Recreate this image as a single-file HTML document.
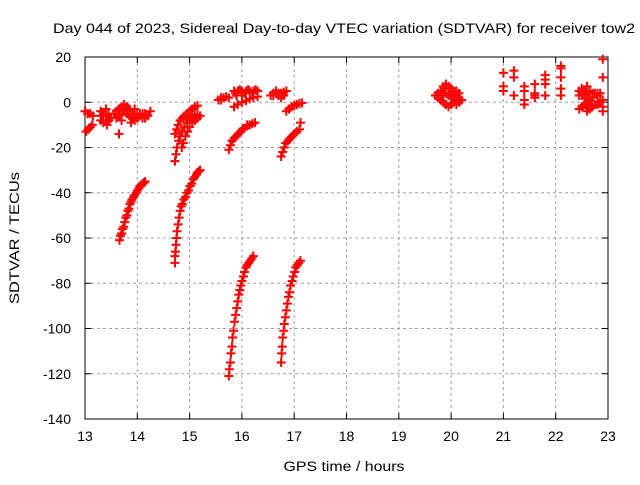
<!DOCTYPE html>
<html><head><meta charset="utf-8"><style>
body{margin:0;background:#fff}
svg text{font-family:"Liberation Sans",sans-serif;font-size:14px;fill:#000}
</style></head><body>
<svg id="c" width="640" height="480">
<text x="344" y="33" text-anchor="middle" font-size="15" textLength="582" lengthAdjust="spacingAndGlyphs">Day 044 of 2023, Sidereal Day-to-day VTEC variation (SDTVAR) for receiver tow2</text>
<text x="344" y="471" text-anchor="middle" font-size="15" textLength="121" lengthAdjust="spacingAndGlyphs">GPS time / hours</text>
<text transform="translate(19,238) rotate(-90)" text-anchor="middle" font-size="15" textLength="132" lengthAdjust="spacingAndGlyphs">SDTVAR / TECUs</text>
<g id="grid"></g>
<g id="axes"></g>
<g id="pts"></g>
</svg>
<script>
const xTicks=[13,14,15,16,17,18,19,20,21,22,23];
const yTicks=[20,0,-20,-40,-60,-80,-100,-120,-140];
const arcA1=[[13.66,-61],[13.68,-59],[13.70,-58],[13.72,-56],[13.74,-55],[13.76,-53],[13.78,-51],[13.80,-50],[13.82,-48],[13.84,-47],[13.86,-45],[13.88,-44],[13.90,-43],[13.93,-42],[13.95,-41],[13.98,-40],[14.00,-39],[14.03,-38],[14.05,-37],[14.08,-36.5],[14.10,-36],[14.13,-35.5],[14.15,-35]];
const arcA2=[[14.72,-71],[14.72,-68],[14.73,-66],[14.74,-63],[14.75,-60],[14.76,-57],[14.78,-54],[14.80,-51],[14.82,-48],[14.84,-46],[14.86,-45],[14.89,-43],[14.92,-42],[14.95,-40],[14.98,-39],[15.01,-37],[15.04,-36],[15.07,-34],[15.10,-33],[15.13,-32],[15.15,-31],[15.18,-30.5],[15.20,-30]];
const arcA3=[[15.75,-121],[15.76,-118],[15.78,-115],[15.79,-111],[15.81,-108],[15.82,-104],[15.84,-101],[15.86,-97],[15.88,-94],[15.90,-91],[15.92,-88],[15.94,-85],[15.96,-83],[15.98,-81],[16.00,-79],[16.03,-77],[16.05,-75],[16.08,-73],[16.10,-72],[16.13,-71],[16.16,-70],[16.19,-69],[16.22,-68]];
const arcA4=[[16.75,-115],[16.76,-111],[16.77,-108],[16.78,-104],[16.80,-101],[16.81,-98],[16.83,-95],[16.85,-92],[16.87,-89],[16.89,-86],[16.91,-84],[16.93,-81],[16.96,-79],[16.98,-77],[17.01,-75],[17.03,-73],[17.06,-72],[17.09,-71],[17.12,-70]];
const arcB1=[[14.72,-26],[14.74,-23],[14.76,-20],[14.79,-17],[14.82,-15],[14.86,-13],[14.90,-11],[14.95,-9],[15.00,-8],[15.05,-7],[15.10,-6],[15.15,-5.5]];
const arcB2=[[14.72,-14],[14.75,-12],[14.78,-10],[14.82,-8],[14.86,-7],[14.90,-6],[14.95,-5],[15.00,-4],[15.05,-3],[15.10,-2],[15.15,-1.5]];
const arcB3=[[14.85,-20],[14.88,-18],[14.92,-15],[14.96,-13],[15.00,-11],[15.05,-9],[15.10,-8],[15.15,-7],[15.20,-6]];
const arcB4=[[15.75,-21],[15.78,-19],[15.81,-17],[15.85,-16],[15.89,-15],[15.93,-14],[15.97,-13],[16.01,-12],[16.05,-11.5],[16.10,-10.5],[16.15,-10],[16.20,-9.5],[16.25,-9]];
const arcB5=[[16.75,-24],[16.78,-22],[16.81,-20],[16.84,-18],[16.88,-17],[16.92,-16],[16.96,-15],[17.00,-14],[17.05,-13],[17.10,-12]];
const arcB6=[[16.85,-4],[16.90,-3],[16.95,-2],[17.00,-1.5],[17.05,-1],[17.10,-0.5],[17.15,-0.3]];
const arcB7=[[15.85,-2],[15.92,-1],[16.00,0],[16.08,0.8],[16.15,1.5],[16.22,2],[16.30,2.5]];
const band1=[[15.85,5],[15.92,5],[16.00,5],[16.08,5],[16.15,5],[16.22,5],[16.30,5],[15.88,4],[16.05,4],[16.20,4],[15.90,3],[16.0,3],[15.96,5.5],[16.12,5.5],[16.26,5.5]];
const band2=[[15.55,1],[15.60,2],[15.65,2],[15.70,2.5],[15.75,2],[15.60,1],[16.10,-10],[17.12,-9]];
const band3=[[16.55,3],[16.60,4],[16.65,4],[16.70,4],[16.75,4],[16.80,4.5],[16.85,5],[16.60,3],[16.70,3],[16.80,3],[16.65,5],[16.75,2]];
const blobLeft=[[13.0,-4],[13.05,-5],[13.10,-5],[13.15,-6],[13.02,-13],[13.06,-12],[13.10,-11],[13.14,-10],[13.30,-4],[13.35,-5],[13.40,-6],[13.45,-5],[13.30,-8],[13.35,-9],[13.42,-10],[13.50,-7],[13.55,-5],[13.60,-4],[13.65,-3],[13.70,-2],[13.75,-1],[13.80,-2],[13.85,-3],[13.60,-7],[13.65,-6],[13.70,-5],[13.75,-4],[13.80,-5],[13.85,-6],[13.90,-5],[13.95,-5],[14.00,-5],[14.05,-5],[14.10,-5],[14.15,-5],[14.20,-6],[13.90,-7],[13.95,-8],[14.00,-7],[14.05,-6],[14.10,-7],[13.88,-9],[13.70,-8],[13.65,-14],[13.75,-3],[13.95,-3],[13.40,-3],[13.32,-6],[13.46,-8],[14.15,-7],[14.25,-4],[13.85,-4]];
const blob20=[[19.7,3],[19.75,4],[19.8,5],[19.85,7],[19.9,8],[19.95,7],[20.0,6],[20.05,5],[20.1,5],[19.75,2],[19.8,1],[19.85,0],[19.9,-1],[19.95,-2],[20.0,-1],[20.05,0],[20.1,1],[20.15,2],[19.85,3],[19.9,4],[19.95,3],[20.0,2],[20.05,3],[20.1,3],[20.15,4],[19.9,6],[20.0,4],[19.8,3],[20.2,1],[20.15,0],[20.1,-1]];
const scatter=[[21.0,13],[21.0,7],[21.0,5],[21.2,14],[21.2,11],[21.2,3],[21.4,7],[21.4,5],[21.4,1],[21.4,-1],[21.6,8],[21.6,4],[21.6,3],[21.6,2],[21.8,12],[21.8,10],[21.8,8],[21.8,3],[22.1,16],[22.1,15],[22.1,11],[22.1,6],[22.1,3],[22.9,19],[22.9,11]];
const blob23=[[22.45,5],[22.5,6],[22.55,5],[22.6,5],[22.65,5],[22.7,4],[22.75,4],[22.8,4],[22.45,3],[22.5,3],[22.55,3],[22.6,2],[22.65,2],[22.7,2],[22.8,3],[22.85,4],[22.45,-3],[22.5,-2],[22.55,-1],[22.6,0],[22.65,1],[22.7,2],[22.6,-4],[22.65,-3],[22.7,-2],[22.75,-1],[22.8,-1],[22.85,0],[22.9,-4],[22.9,1],[22.9,-2],[22.5,4],[22.6,7]];
const series=[arcA1,arcA2,arcA3,arcA4,arcB1,arcB2,arcB3,arcB4,arcB5,arcB6,arcB7,band1,band2,band3,blobLeft,blob20,scatter,blob23];
const X0=85,X1=608,Y0=419,Y1=57;
const xS=v=>X0+(v-13)/10*(X1-X0);
const yS=v=>Y0-(v+140)/160*(Y0-Y1);
const NS='http://www.w3.org/2000/svg';
function mk(t,a,p){const e=document.createElementNS(NS,t);for(const k in a)e.setAttribute(k,a[k]);p.appendChild(e);return e;}
const g=document.getElementById('grid'),ax=document.getElementById('axes'),pg=document.getElementById('pts');
xTicks.forEach(t=>{const x=xS(t);
 if(t>13&&t<23){const l=mk('line',{x1:x,x2:x,y1:Y1,y2:Y0,stroke:'#a0a0a0','stroke-dasharray':'3,3'},g);}
 mk('line',{x1:x,x2:x,y1:Y0,y2:Y0-6,stroke:'#000'},ax);mk('line',{x1:x,x2:x,y1:Y1,y2:Y1+6,stroke:'#000'},ax);
 const tx=mk('text',{x:x,y:Y0+22,'text-anchor':'middle','font-size':15},ax);tx.textContent=t;
 });
yTicks.forEach(t=>{const y=yS(t);
 if(t<20&&t>-140){const l=mk('line',{x1:X0,x2:X1,y1:y,y2:y,stroke:'#a0a0a0','stroke-dasharray':'3,3'},g);}
 mk('line',{x1:X0,x2:X0+6,y1:y,y2:y,stroke:'#000'},ax);mk('line',{x1:X1,x2:X1-6,y1:y,y2:y,stroke:'#000'},ax);
 const tx=mk('text',{x:X0-14,y:y+5,'text-anchor':'end','font-size':15},ax);tx.textContent=t;
 });
mk('rect',{x:X0,y:Y1,width:X1-X0,height:Y0-Y1,fill:'none',stroke:'#000'},ax);
let d='';
series.forEach(s=>s.forEach(p=>{const x=xS(p[0]),y=yS(p[1]);d+=`M${x-4.5},${y}h9M${x},${y-4.5}v9`;}));
const path=mk('path',{d:d,stroke:'#f00','stroke-width':2,fill:'none'},pg);


</script>
</body></html>
